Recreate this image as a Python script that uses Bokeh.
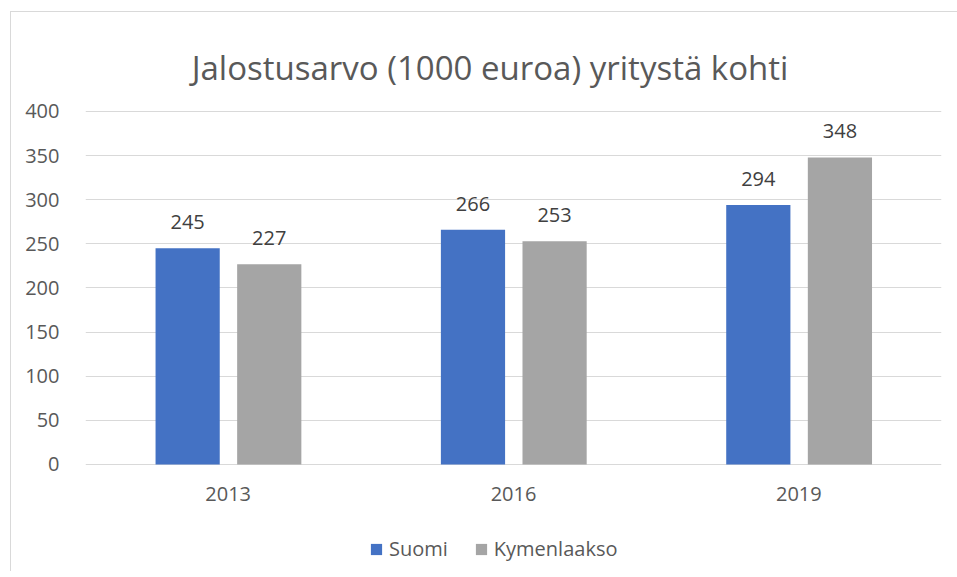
from bokeh.plotting import figure
from bokeh.models import (ColumnDataSource, FactorRange, Range1d, FixedTicker, LabelSet,
                          Label, Legend, LegendItem)
from bokeh.core.properties import value
from bokeh.transform import dodge
from bokeh.embed import file_html
from bokeh.resources import INLINE

years = ["2013", "2016", "2019"]
suomi = [245, 266, 294]
kymenlaakso = [227, 253, 348]
y_ticks = [0, 50, 100, 150, 200, 250, 300, 350, 400]
series_names = ["Suomi", "Kymenlaakso"]
colors = ["#4472C4", "#A5A5A5"]
title_text = "Jalostusarvo (1000 euroa) yritystä kohti"

FONT = "Open Sans"

src = ColumnDataSource(dict(year=years, suomi=suomi, kymen=kymenlaakso,
                            base=[0] * len(years),
                            suomi_lbl=[str(v) for v in suomi],
                            kymen_lbl=[str(v) for v in kymenlaakso]))

# frame covers the whole chart box; value axis spans 0..400 in the middle of it
p = figure(x_range=FactorRange(*years), y_range=Range1d(-121.25, 512.18),
           frame_width=856, frame_height=559, output_backend="svg", toolbar_location=None,
           min_border_left=74, min_border_right=16, min_border_top=0, min_border_bottom=0)
p.styles = {"border-left": "1px solid #d9d9d9", "border-top": "1px solid #d9d9d9",
            "margin-left": "10px", "margin-top": "11px"}

p.outline_line_color = None
p.background_fill_color = "white"
p.border_fill_color = "white"

r1 = p.vbar(x=dodge("year", -0.142, range=p.x_range), top="suomi", width=0.225,
            source=src, color=colors[0], line_color=None)
r2 = p.vbar(x=dodge("year", 0.144, range=p.x_range), top="kymen", width=0.225,
            source=src, color=colors[1], line_color=None)

for col, lbl, off in (("suomi", "suomi_lbl", -0.142), ("kymen", "kymen_lbl", 0.144)):
    ls = LabelSet(x=dodge("year", off, range=p.x_range), y=col, text=lbl, source=src,
                  text_align="center", text_baseline="alphabetic", y_offset=19,
                  text_font=value(FONT), text_font_size="20px", text_color="#404040")
    p.add_layout(ls)

# category labels under the baseline
cat = LabelSet(x="year", y="base", text="year", source=src,
               text_align="center", text_baseline="alphabetic", y_offset=-37,
               text_font=value(FONT), text_font_size="20px", text_color="#595959")
p.add_layout(cat)

# chart title
p.add_layout(Label(x=404.5, y=504, x_units="screen", y_units="screen", text=title_text,
                   text_align="center", text_baseline="alphabetic",
                   text_font=FONT, text_font_size="33px", text_color="#595959"))

p.xaxis.visible = False

p.yaxis.ticker = FixedTicker(ticks=y_ticks)
p.yaxis.axis_line_color = None
p.yaxis.major_tick_line_color = None
p.yaxis.minor_tick_line_color = None
p.yaxis.major_label_text_font = FONT
p.yaxis.major_label_text_font_size = "20px"
p.yaxis.major_label_text_color = "#595959"
p.yaxis.major_label_standoff = 20

p.xgrid.grid_line_color = None
p.ygrid.ticker = FixedTicker(ticks=y_ticks)
p.ygrid.grid_line_color = "#d9d9d9"
p.ygrid.grid_line_width = 1

legend = Legend(items=[LegendItem(label=series_names[0], renderers=[r1]),
                       LegendItem(label=series_names[1], renderers=[r2])],
                orientation="horizontal", location=(284, 9),
                label_text_font=FONT, label_text_font_size="20px", label_text_color="#595959",
                glyph_width=14, glyph_height=14, label_standoff=6, spacing=26,
                border_line_color=None, background_fill_alpha=0, padding=0, margin=0)
p.add_layout(legend, "center")

open("out.html", "w").write(file_html(p, INLINE))
